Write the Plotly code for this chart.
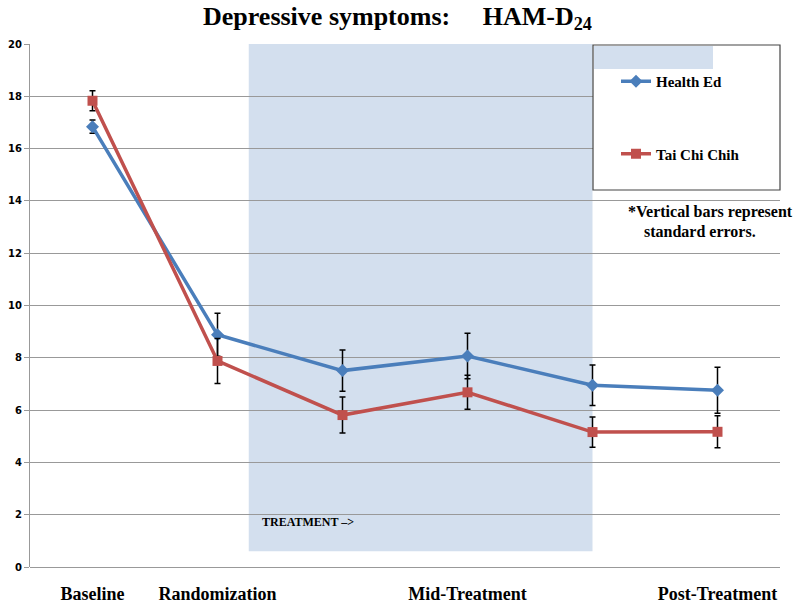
import plotly.graph_objects as go

# ---- data ----
time_index = [0, 1, 2, 3, 4, 5]
label_positions = [0, 1, 3, 5]
tick_labels = ["Baseline", "Randomization", "Mid-Treatment", "Post-Treatment"]
health_ed = [16.84, 8.88, 7.51, 8.07, 6.95, 6.76]
health_ed_se = [0.25, 0.82, 0.79, 0.87, 0.77, 0.88]
tai_chi = [17.83, 7.88, 5.81, 6.68, 5.16, 5.17]
tai_chi_se = [0.38, 0.86, 0.69, 0.65, 0.58, 0.61]
y_ticks = [0, 2, 4, 6, 8, 10, 12, 14, 16, 18, 20]

BLUE = "#4A7EBB"
RED = "#C0504D"
SERIF = "Liberation Serif"

fig = go.Figure()
fig.add_trace(go.Scatter(
    x=time_index, y=health_ed, name="Health Ed", mode="lines+markers",
    line=dict(color=BLUE, width=3.5),
    marker=dict(symbol="diamond", size=10, color=BLUE),
    error_y=dict(type="data", array=health_ed_se, visible=True, color="black", thickness=1.5, width=3),
    legendgroup="a",
))
fig.add_trace(go.Scatter(
    x=time_index, y=tai_chi, name="Tai Chi Chih", mode="lines+markers",
    line=dict(color=RED, width=3.5),
    marker=dict(symbol="square", size=10, color=RED),
    error_y=dict(type="data", array=tai_chi_se, visible=True, color="black", thickness=1.5, width=3),
    legendgroup="b",
))

# helpers: pixel -> paper fraction (plot area spans 30..780 x, 44..567 y)
def px_x(px):
    return (px - 30) / 750.0

def px_y(py):
    return (567 - py) / 523.0

shapes = [
    dict(type="rect", xref="x", yref="y", x0=1.25, x1=4.0, y0=0.6, y1=20,
         fillcolor="#D3DFEE", line=dict(width=0), layer="below"),
    dict(type="rect", xref="paper", yref="paper", x0=px_x(593), x1=px_x(780),
         y0=px_y(190), y1=px_y(45), fillcolor="white",
         line=dict(color="#444444", width=1.2), layer="above"),
    dict(type="rect", xref="paper", yref="paper", x0=px_x(594), x1=px_x(713),
         y0=px_y(69), y1=px_y(46), fillcolor="#D3DFEE",
         line=dict(width=0), layer="above"),
]

annotations = [
    dict(text="<b>Depressive symptoms:&nbsp;&nbsp;&nbsp;&nbsp;&nbsp;HAM-D<sub>24</sub></b>",
         xref="paper", yref="paper", x=px_x(397), y=px_y(18), xanchor="center", yanchor="middle",
         showarrow=False, font=dict(family=SERIF, size=26, color="black")),
    dict(text="<b>*Vertical bars represent</b>", xref="paper", yref="paper",
         x=px_x(626), y=px_y(212), xanchor="left", yanchor="middle", showarrow=False,
         font=dict(family=SERIF, size=16, color="black")),
    dict(text="<b>standard errors.</b>", xref="paper", yref="paper",
         x=px_x(642), y=px_y(231), xanchor="left", yanchor="middle", showarrow=False,
         font=dict(family=SERIF, size=16, color="black")),
    dict(text="<b>TREATMENT –></b>", xref="x", yref="y",
         x=1.34, y=1.73, xanchor="left", yanchor="middle", showarrow=False,
         font=dict(family=SERIF, size=12, color="black")),
]

fig.update_layout(
    width=800, height=609,
    margin=dict(l=30, r=20, t=44, b=42),
    paper_bgcolor="white", plot_bgcolor="white",
    shapes=shapes, annotations=annotations,
    showlegend=True,
    legend=dict(x=px_x(616), y=px_y(65), xanchor="left", yanchor="top",
                bgcolor="rgba(0,0,0,0)", borderwidth=0, tracegroupgap=50,
                font=dict(family=SERIF, size=15, color="black", weight="bold")),
    xaxis=dict(range=[-0.5, 5.5], tickvals=label_positions, ticktext=tick_labels,
               showgrid=False, zeroline=False, showline=False, ticks="",
               automargin=False,
               tickfont=dict(family=SERIF, size=18, color="black", weight="bold"),
               ticklabelstandoff=14),
    yaxis=dict(range=[0, 20], tickvals=y_ticks, showgrid=True, gridcolor="#999999",
               gridwidth=1, zeroline=True, zerolinecolor="#999999", zerolinewidth=1,
               showline=True, linecolor="#999999", linewidth=1,
               ticks="outside", ticklen=5, tickcolor="#999999", automargin=False,
               tickfont=dict(family="DejaVu Sans", size=10, color="black", weight="bold")),
)

fig.write_html("out.html", config={"displayModeBar": False},
               post_script="document.body.style.margin='0';")
